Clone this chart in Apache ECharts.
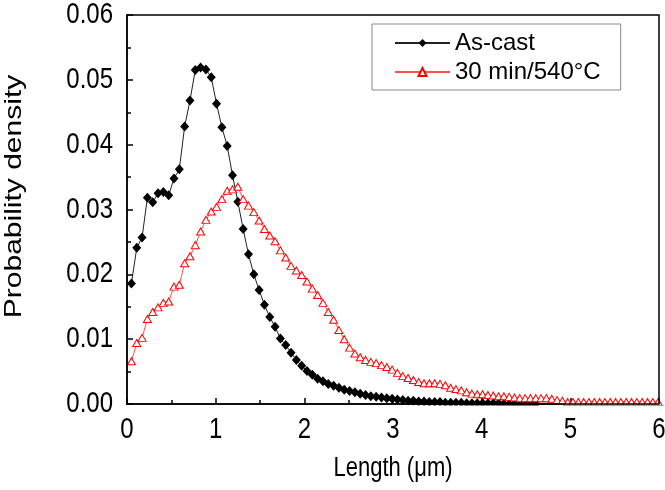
<!DOCTYPE html>
<html>
<head>
<meta charset="utf-8">
<script src="https://cdn.jsdelivr.net/npm/echarts@6/dist/echarts.min.js"></script>
<style>
  html, body { margin: 0; padding: 0; background: #fff; }
  #chart { width: 665px; height: 490px; }
</style>
</head>
<body>
<div id="chart"></div>
<script>
// Length values (µm) at which the densities were sampled
const lengths = [0.05,0.11,0.17,0.23,0.29,0.35,0.41,0.47,0.53,0.59,0.65,0.71,0.77,0.83,0.89,0.95,1.01,1.07,1.13,1.19,
  1.25,1.31,1.37,1.43,1.49,1.55,1.61,1.67,1.73,1.79,1.85,1.91,1.97,2.03,2.09,2.15,2.21,2.27,2.33,2.39,
  2.45,2.51,2.57,2.63,2.69,2.75,2.81,2.87,2.93,2.99,3.05,3.11,3.17,3.23,3.29,3.35,3.41,3.47,3.53,3.59,
  3.65,3.71,3.77,3.83,3.89,3.95,4.01,4.07,4.13,4.19,4.25,4.31,4.37,4.43,4.49,4.55,4.61,4.67,4.73,4.79,
  4.85,4.91,4.97,5.03,5.09,5.15,5.21,5.27,5.33,5.39,5.45,5.51,5.57,5.63,5.69,5.75,5.81,5.87,5.93,5.99];

const asCast = [0.0186,0.0241,0.0257,0.0318,0.0311,0.0325,0.0327,0.0322,0.0348,0.0362,
  0.0428,0.0468,0.0515,0.0519,0.0516,0.0504,0.0463,0.0427,0.0398,0.0353,
  0.0312,0.0270,0.0231,0.0200,0.0176,0.0153,0.0134,0.0119,0.0101,0.0091,
  0.0079,0.0068,0.0059,0.0051,0.0045,0.0039,0.0035,0.0031,0.0028,0.0025,
  0.0022,0.0020,0.0018,0.0016,0.0014,0.0012,0.0011,0.0010,0.0009,0.0008,
  0.0007,0.0006,0.0005,0.0005,0.0004,0.0004,0.0003,0.0003,0.0003,0.0002,
  0.0002,0.0002,0.0002,0.0001,0.0001,0.0001,0.0001,0.0001,0.0001,0.0001,
  0.0000,0.0000,0.0000,0.0000,0.0000,0.0000,0.0000];

const annealed = [0.0066,0.0094,0.0102,0.0131,0.0142,0.0149,0.0156,0.0158,0.0181,0.0184,
  0.0217,0.0228,0.0245,0.0266,0.0284,0.0297,0.0304,0.0316,0.0329,0.0331,
  0.0335,0.0316,0.0306,0.0296,0.0283,0.0270,0.0260,0.0251,0.0237,0.0226,
  0.0213,0.0206,0.0199,0.0189,0.0178,0.0168,0.0156,0.0142,0.0130,0.0114,
  0.0100,0.0087,0.0078,0.0072,0.0068,0.0065,0.0063,0.0060,0.0057,0.0053,
  0.0048,0.0043,0.0040,0.0037,0.0034,0.0032,0.0032,0.0032,0.0031,0.0029,
  0.0025,0.0023,0.0021,0.0018,0.0016,0.0015,0.0015,0.0014,0.0013,0.0012,
  0.0012,0.0011,0.0010,0.0009,0.0009,0.0009,0.0009,0.0009,0.0009,0.0008,
  0.0006,0.0005,0.0003,0.0003,0.0003,0.0003,0.0003,0.0003,0.0003,0.0003,
  0.0003,0.0003,0.0003,0.0003,0.0003,0.0003,0.0003,0.0003,0.0003,0.0003];

const seriesNames = ['As-cast', '30 min/540°C'];
const xTicks = [0, 1, 2, 3, 4, 5, 6];
const yTicks = [0, 0.01, 0.02, 0.03, 0.04, 0.05, 0.06];
const xTitle = 'Length (μm)';
const yTitle = 'Probability density';

const pairs = (ys) => ys.map((y, i) => [lengths[i], y]);
const FONT = 'Liberation Sans, Arial, sans-serif';
const STRETCH = 1.22; // glyphs in the reference are drawn taller than wide

const chart = echarts.init(document.getElementById('chart'), null, { renderer: 'canvas' });
chart.setOption({
  animation: false,
  backgroundColor: '#fff',
  grid: { left: 127, right: 6, top: 15, bottom: 86, show: true, borderColor: '#000', borderWidth: 1.5, backgroundColor: 'transparent', z: 10 },
  legend: {
    orient: 'vertical', left: 372, top: 24,
    padding: [7, 20, 6, 22], itemGap: 5, itemWidth: 55, itemHeight: 10, itemTextGap: 8,
    borderColor: '#888', borderWidth: 1, backgroundColor: '#fff',
    textStyle: { fontFamily: FONT, fontSize: 24, color: '#000', lineHeight: 24 },
    data: seriesNames
  },
  xAxis: {
    type: 'value', min: xTicks[0], max: xTicks[xTicks.length - 1], interval: 1,
    axisLine: { show: true, lineStyle: { color: '#000', width: 1.5 } },
    axisTick: { show: true, inside: true, length: 6, lineStyle: { color: '#000', width: 1.5 } },
    minorTick: { show: true, splitNumber: 2, length: 4, lineStyle: { color: '#000', width: 1.5 } },
    axisLabel: { show: false },
    splitLine: { show: false }
  },
  yAxis: {
    type: 'value', min: yTicks[0], max: yTicks[yTicks.length - 1], interval: 0.01,
    axisLine: { show: true, lineStyle: { color: '#000', width: 1.5 } },
    axisTick: { show: true, inside: true, length: 6, lineStyle: { color: '#000', width: 1.5 } },
    minorTick: { show: true, splitNumber: 2, length: 4, lineStyle: { color: '#000', width: 1.5 } },
    axisLabel: { show: false },
    splitLine: { show: false }
  },
  series: [
    {
      name: seriesNames[0], type: 'line', data: pairs(asCast),
      symbol: 'diamond', symbolSize: [9, 10],
      lineStyle: { color: '#222', width: 1 },
      itemStyle: { color: '#000', borderColor: '#000', borderWidth: 0 },
      z: 3
    },
    {
      name: seriesNames[1], type: 'line', data: pairs(annealed),
      symbol: 'triangle', symbolSize: [8, 7],
      lineStyle: { color: '#ff5050', width: 1 },
      itemStyle: { color: '#fff', borderColor: '#ff0000', borderWidth: 1 },
      z: 4
    }
  ]
});

// Tick labels and titles placed through the chart's own scales
const makeText = (t, align) => ({ text: t, fontFamily: FONT, fontSize: 24, fill: '#000',
  align: align, verticalAlign: 'middle', textAlign: align, textVerticalAlign: 'middle' });
const pOrigin = chart.convertToPixel({ gridIndex: 0 }, [xTicks[0], yTicks[0]]);
const pRight = chart.convertToPixel({ gridIndex: 0 }, [xTicks[xTicks.length - 1], yTicks[0]]);
const pTop = chart.convertToPixel({ gridIndex: 0 }, [xTicks[0], yTicks[yTicks.length - 1]]);
const graphics = [{
  type: 'rect', z: 50,
  shape: { x: pOrigin[0], y: pOrigin[1] + 1.5, width: pRight[0] - pOrigin[0] + 3, height: 8 },
  style: { fill: '#fff' }
}];
xTicks.forEach((v) => {
  const p = chart.convertToPixel({ gridIndex: 0 }, [v, yTicks[0]]);
  graphics.push({ type: 'text', x: p[0], y: p[1] + 26, scaleY: STRETCH, z: 60, style: makeText(String(v), 'center') });
});
yTicks.forEach((v) => {
  const p = chart.convertToPixel({ gridIndex: 0 }, [xTicks[0], v]);
  graphics.push({ type: 'text', x: p[0] - 14, y: p[1], scaleY: STRETCH, z: 60, style: makeText(v.toFixed(2), 'right') });
});
graphics.push({
  type: 'text', x: (pOrigin[0] + pRight[0]) / 2, y: pOrigin[1] + 64, scaleY: 1.25, z: 60,
  style: Object.assign(makeText(xTitle, 'center'), { fontSize: 22 })
});
graphics.push({
  type: 'text', x: 14, y: (pOrigin[1] + pTop[1]) / 2 - 13, rotation: Math.PI / 2, scaleX: 1.25, z: 60,
  style: makeText(yTitle, 'center')
});
chart.setOption({ graphic: graphics });
</script>
</body>
</html>
